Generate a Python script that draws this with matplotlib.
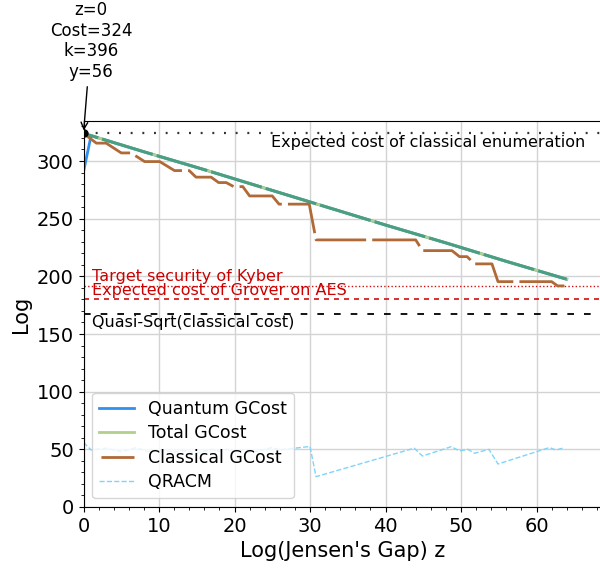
import matplotlib
matplotlib.use("Agg")
import matplotlib.pyplot as plt
import numpy as np

plt.rcParams['lines.scale_dashes'] = False

# ---------------- data ----------------
total_z = [0, 1, 8, 16, 24, 32, 40, 48, 56, 64]
total_cost = [324, 322, 308, 292.5, 276.5, 260.5, 244.5, 229, 213, 197.5]

quantum_z = [0, 1, 8, 16, 24, 32, 40, 48, 56, 64]
quantum_cost = [290.5, 322, 308, 292.5, 276.5, 260.5, 244.5, 229, 213, 197.5]

classical_z = [0, 1.7, 3.0, 5.0, 6.3, 8.1, 10.1, 12.05, 14.0, 14.9, 16.9, 17.9, 18.9,
               19.9, 21.1, 22.0, 25.0, 25.9, 29.9, 30.8, 44.0, 44.9, 48.8, 49.8, 50.8,
               51.8, 54.1, 54.9, 62.0, 62.8, 63.7]
classical_cost = [324, 315.5, 315.5, 307, 307, 299.5, 299.5, 291.7, 291.7, 286, 286, 281.3, 281.3,
                  277.8, 277.8, 269.7, 269.7, 262.6, 262.6, 231.6, 231.6, 222.3, 222.3, 217.1, 217.1,
                  210.8, 210.8, 195.4, 195.4, 191.7, 191.7]

qracm_z = [0, 1, 3, 5, 7, 8.5, 10, 12, 13, 15, 17, 18, 19, 20, 21, 22, 25, 26, 30, 30.8,
           43.8, 44.9, 48.7, 49.8, 50.9, 51.8, 53.7, 54.9, 61.7, 62.6, 63.7]
qracm = [56, 49.5, 51, 48, 51.5, 48, 50, 47.5, 49, 47, 50, 48.5, 50, 48, 49.5, 47, 51.5, 49.5, 52.5, 26.3,
         51, 44.2, 52.3, 48.6, 50, 46.6, 50, 37.3, 51.5, 49.4, 51.5]

classical_enum = 324
kyber_target = 192
grover_aes = 180.5
quasi_sqrt = 167

annot_text = "z=0\nCost=324\nk=396\ny=56"

# ---------------- figure ----------------
fig = plt.figure(figsize=(6.0, 5.69), dpi=100)
W, H = 600.0, 569.0
left, right, bottom, top = 83.5, 602, 507, 121
ax = fig.add_axes([left / W, (H - bottom) / H, (right - left) / W, (bottom - top) / H])

ax.set_xlim(0, (right - left) / 7.55)
ax.set_ylim(0, (bottom - top) / 1.1533)

ax.grid(True, which='major', color='#d3d3d3', lw=1.0)
ax.set_axisbelow(True)
ax.xaxis.set_major_locator(matplotlib.ticker.MultipleLocator(10))
ax.xaxis.set_minor_locator(matplotlib.ticker.MultipleLocator(2))
ax.yaxis.set_major_locator(matplotlib.ticker.MultipleLocator(50))
ax.yaxis.set_minor_locator(matplotlib.ticker.MultipleLocator(10))
ax.tick_params(labelsize=14)
ax.spines['right'].set_visible(False)

# reference lines
ax.axhline(classical_enum, color='#333333', lw=1.6, linestyle=(0, (1.4, 7.0)))
ax.axhline(kyber_target, color='#d01010', lw=1.0, linestyle=(0, (1.0, 1.6)))
ax.axhline(grover_aes, color='#d62020', lw=1.3, linestyle=(0, (3.6, 3.6)))
ax.axhline(quasi_sqrt, color='black', lw=1.3, linestyle=(0, (4.8, 7.2)))

# series
ax.plot(quantum_z, quantum_cost, color='#3090f0', lw=2, label='Quantum GCost')
ax.plot(total_z, total_cost, color='#b0d08c', lw=2, label='Total GCost')
ax.plot(total_z, total_cost, color='#4a9e82', lw=2.2, linestyle=(27, (38.1, 2.9)))
ax.plot(classical_z, classical_cost, color='#b06a38', lw=2, label='Classical GCost',
        linestyle=(39.6, (36.6, 4.4)))
ax.plot(qracm_z, qracm, color='#80d4fa', lw=1, linestyle='--', label='QRACM')

ax.plot([0], [324], 'o', color='black', ms=5, zorder=5)

# texts
ax.text(66.4, 315.7, 'Expected cost of classical enumeration', fontsize=11.5,
        ha='right', va='center', color='black')
ax.text(1.1, 199.5, 'Target security of Kyber', fontsize=11.5, ha='left', va='center', color='#cc0000')
ax.text(1.1, 187.3, 'Expected cost of Grover on AES', fontsize=11.5, ha='left', va='center', color='#cc0000')
ax.text(1.1, 160.4, 'Quasi-Sqrt(classical cost)', fontsize=11.5, ha='left', va='center', color='black')

ax.annotate(annot_text, xy=(0, 324), xytext=(91, H - 41), textcoords='figure pixels',
            ha='center', va='center', fontsize=12, annotation_clip=False,
            arrowprops=dict(arrowstyle='->', color='black', lw=1))

ax.set_xlabel("Log(Jensen's Gap) z", fontsize=15)
ax.set_ylabel("Log", fontsize=15)

ax.legend(loc='lower left', fontsize=12.5, labelspacing=0.38)

fig.savefig('out.png', dpi=100)
